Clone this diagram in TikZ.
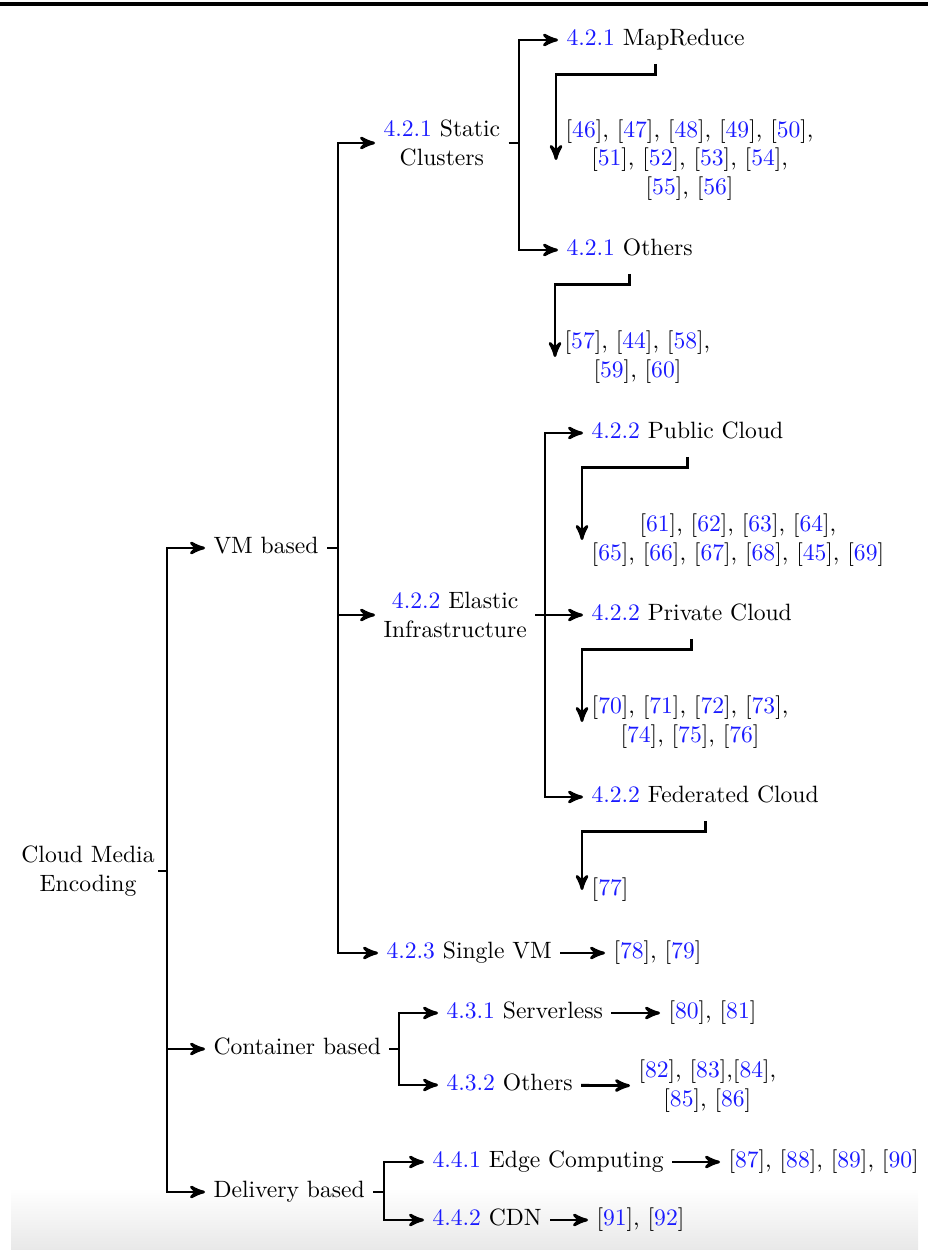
\documentclass[tikz,border=0pt]{standalone}
\usetikzlibrary{arrows,positioning,calc}
\definecolor{secColor}{HTML}{1A1AFF}
\definecolor{citeColor}{HTML}{1A1AFF}
\newcommand{\secnum}[1]{\textcolor{secColor}{#1}}
\newcommand{\refno}[1]{[\textcolor{citeColor}{#1}]}

\begin{document}
\begin{tikzpicture}[x=0.4237pt,y=-0.4237pt,>=stealth',very thick,
		every node/.style={inner sep=3pt},
		lbl/.style={anchor=west,text height=7pt,text depth=2pt},
		grp/.style={anchor=west,align=center},
		refs/.style={anchor=west,align=center,inner sep=3.5pt}]
	\useasboundingbox (0,0) rectangle (928,1250);
	\shade[top color=white,bottom color=black!9] (11,1188) rectangle (918,1250);
	\draw[line width=1.4pt] (0,4) -- (928,4);
	% tree nodes
	\node[align=center,inner sep=1pt] (root) at (88,871) {Cloud Media\\Encoding};
	\node[lbl] (vm) at (205,548) {VM based};
	\node[lbl] (ct) at (205,1049) {Container based};
	\node[lbl] (dl) at (205,1192) {Delivery based};
	\node[grp] (sc) at (375,143) {\secnum{4.2.1} Static\\Clusters};
	\node[grp] (ei) at (375,615) {\secnum{4.2.2} Elastic\\Infrastructure};
	\node[lbl] (sv) at (378,953) {\secnum{4.2.3} Single VM};
	\node[lbl] (mr) at (558,40) {\secnum{4.2.1} MapReduce};
	\node[lbl] (ot) at (558,250) {\secnum{4.2.1} Others};
	\node[lbl] (pu) at (583,433) {\secnum{4.2.2} Public Cloud};
	\node[lbl] (pr) at (583,615) {\secnum{4.2.2} Private Cloud};
	\node[lbl] (fe) at (583,797) {\secnum{4.2.2} Federated Cloud};
	\node[lbl] (sl) at (438,1013) {\secnum{4.3.1} Serverless};
	\node[lbl] (o2) at (438,1085) {\secnum{4.3.2} Others};
	\node[lbl] (ec) at (424,1162) {\secnum{4.4.1} Edge Computing};
	\node[lbl] (cd) at (424,1220) {\secnum{4.4.2} CDN};
	% references
	\node[refs] (c1) at (556,160) {\refno{46}, \refno{47}, \refno{48}, \refno{49}, \refno{50},\\
		\refno{51}, \refno{52}, \refno{53}, \refno{54},\\ \refno{55}, \refno{56}};
	\node[refs] (c2) at (555,357) {\refno{57}, \refno{44}, \refno{58},\\ \refno{59}, \refno{60}};
	\node[refs] (c3) at (582,540) {\refno{61}, \refno{62}, \refno{63}, \refno{64},\\
		\refno{65}, \refno{66}, \refno{67}, \refno{68}, \refno{45}, \refno{69}};
	\node[refs] (c4) at (582,722) {\refno{70}, \refno{71}, \refno{72}, \refno{73},\\ \refno{74}, \refno{75}, \refno{76}};
	\node[refs] (c5) at (582,890) {\refno{77}};
	\node[anchor=west] (r1) at (605,953) {\refno{78}, \refno{79}};
	\node[anchor=west] (r2) at (660,1013) {\refno{80}, \refno{81}};
	\node[anchor=west,align=center] (r3) at (630,1086) {\refno{82}, \refno{83},\refno{84},\\ \refno{85}, \refno{86}};
	\node[anchor=west] (r4) at (720,1162) {\refno{87}, \refno{88}, \refno{89}, \refno{90}};
	\node[anchor=west] (r5) at (588,1220) {\refno{91}, \refno{92}};
	% junctions
	\coordinate (j0) at (167,871);
	\coordinate (j1) at (338,548);
	\coordinate (j2) at (519,143);
	\coordinate (j3) at (545,615);
	\coordinate (j4) at (399,1049);
	\coordinate (j5) at (384,1192);
	\draw (root.east |- j0) -- (j0);
	\foreach \n in {vm,ct,dl} \draw[->] (j0) |- (\n);
	\draw (vm) -- (j1);
	\foreach \n in {sc,ei,sv} \draw[->] (j1) |- (\n);
	\draw (sc) -- (j2);
	\foreach \n in {mr,ot} \draw[->] (j2) |- (\n);
	\draw (ei) -- (j3);
	\foreach \n in {pu,pr,fe} \draw[->] (j3) |- (\n);
	\draw (ct) -- (j4);
	\foreach \n in {sl,o2} \draw[->] (j4) |- (\n);
	\draw (dl) -- (j5);
	\foreach \n in {ec,cd} \draw[->] (j5) |- (\n);
	% leaves to references
	\foreach \a/\b in {mr/c1,ot/c2,pu/c3,pr/c4,fe/c5}
		\draw[->] ([yshift=-2pt]\a.south) -- ++(0,11) -| (\b.west);
	\foreach \a/\b in {sv/r1,sl/r2,o2/r3,ec/r4,cd/r5}
		\draw[->] (\a) -- (\b);
\end{tikzpicture}
\end{document}
